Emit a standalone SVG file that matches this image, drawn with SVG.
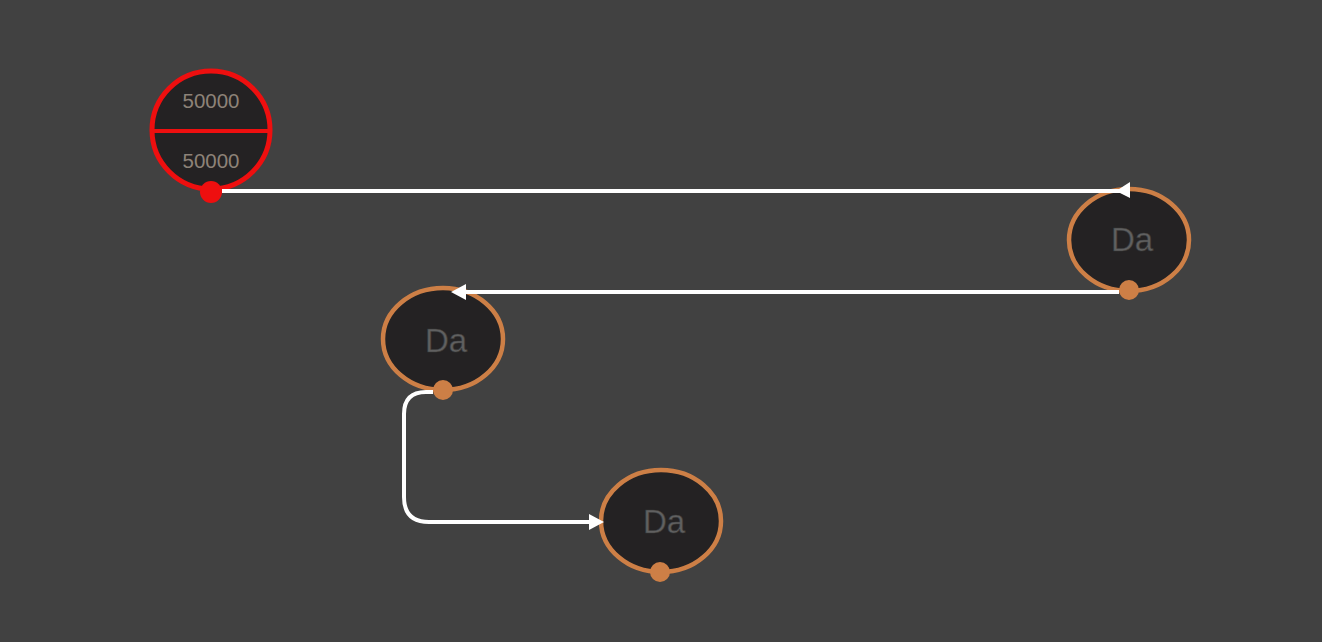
<svg xmlns="http://www.w3.org/2000/svg" width="1322" height="642" viewBox="0 0 1322 642">
<style>
.bg{fill:#414141}
.node{fill:#242223;stroke:#cd7f46;stroke-width:4.5}
.port{fill:#cd7f46}
.lbl{font-family:"Liberation Sans",Arial,sans-serif;font-size:33px;fill:#606060;stroke:#3a3a3a;stroke-width:0.6;text-anchor:middle}
.num{font-family:"Liberation Sans",Arial,sans-serif;font-size:20.5px;fill:#8d8278;text-anchor:middle}
.edge{fill:none;stroke:#ffffff;stroke-width:4}
.head{fill:#ffffff}
</style>
<rect class="bg" x="0" y="0" width="1322" height="642"/>
<g id="node-root">
  <circle cx="211" cy="130" r="59" fill="#242223" stroke="#ee0f0f" stroke-width="5"/>
  <line x1="152" y1="131" x2="270" y2="131" stroke="#ee0f0f" stroke-width="4"/>
  <text class="num" x="211" y="108">50000</text>
  <text class="num" x="211" y="168">50000</text>
  <circle cx="211" cy="192" r="11" fill="#ee0f0f"/>
</g>
<g id="node-a">
  <ellipse class="node" cx="1129" cy="240" rx="60" ry="51"/>
  <text class="lbl" x="1132" y="251">Da</text>
  <circle class="port" cx="1129" cy="290" r="10"/>
</g>
<g id="node-b">
  <ellipse class="node" cx="443" cy="339" rx="60" ry="51"/>
  <text class="lbl" x="446" y="352">Da</text>
  <circle class="port" cx="443" cy="390" r="10"/>
</g>
<g id="node-c">
  <ellipse class="node" cx="661" cy="521" rx="60" ry="51"/>
  <text class="lbl" x="664" y="533">Da</text>
  <circle class="port" cx="660" cy="572" r="10"/>
</g>
<g id="connectors">
  <path class="edge" d="M222 191 L1120 191"/>
  <polygon class="head" points="1116,191 1130,182 1130,198"/>
  <path class="edge" d="M1119 292 L462 292"/>
  <polygon class="head" points="451,292 466,284 466,300"/>
  <path class="edge" d="M433 392 L426 392 Q404 392 404 414 L404 497 Q404 522 429 522 L592 522"/>
  <polygon class="head" points="604,522 589,514 589,530"/>
</g>
</svg>
